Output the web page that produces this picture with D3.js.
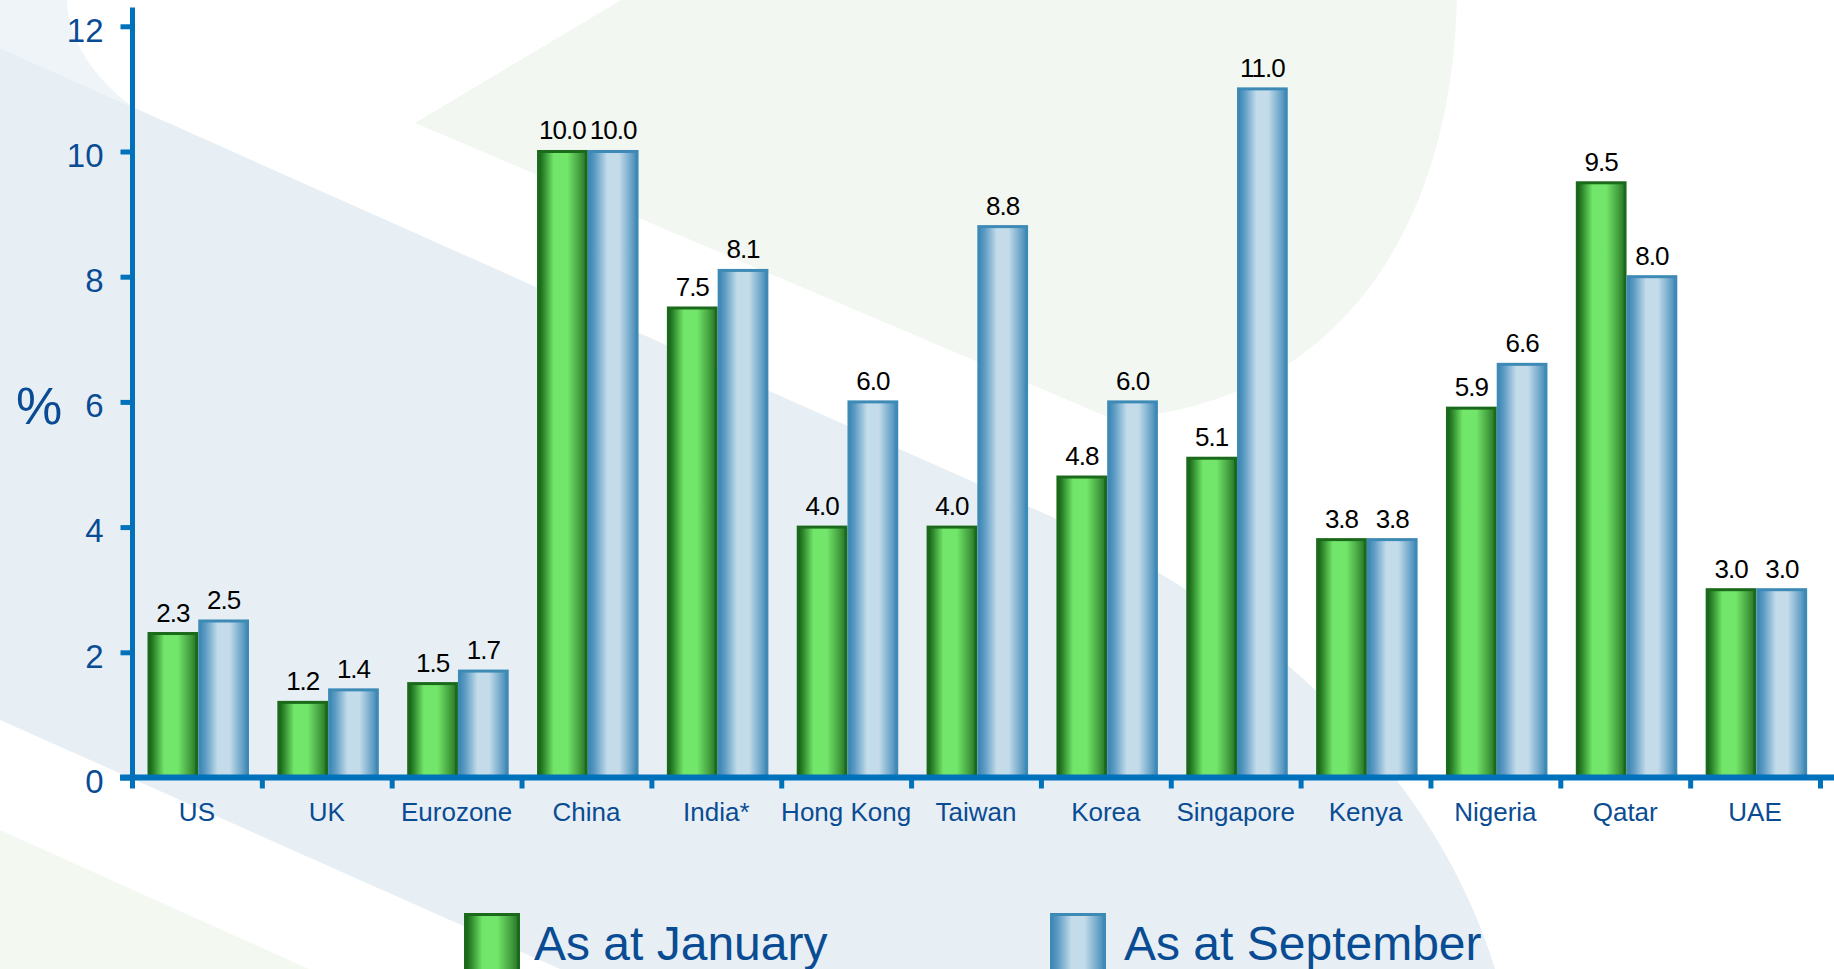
<!DOCTYPE html>
<html>
<head>
<meta charset="utf-8">
<script src="https://cdn.jsdelivr.net/npm/d3@7"></script>
<style>
  body { margin: 0; background: #fff; overflow: hidden; }
  svg { display: block; font-family: Arial, "Liberation Sans", sans-serif; }
</style>
</head>
<body>
<script>
const categories = ["US", "UK", "Eurozone", "China", "India*", "Hong Kong", "Taiwan", "Korea", "Singapore", "Kenya", "Nigeria", "Qatar", "UAE"];
const january = [2.3, 1.2, 1.5, 10.0, 7.5, 4.0, 4.0, 4.8, 5.1, 3.8, 5.9, 9.5, 3.0];
const september = [2.5, 1.4, 1.7, 10.0, 8.1, 6.0, 8.8, 6.0, 11.0, 3.8, 6.6, 8.0, 3.0];
const seriesNames = ["As at January", "As at September"];
const yTicks = [0, 2, 4, 6, 8, 10, 12];

let width = 1834, height = 969;
let axisBlue = "#0071bb";
let textBlue = "#0a4c93";

let svg = d3.select("body").append("svg")
    .attr("width", width)
    .attr("height", height);

// gradients for the cylinder look
let defs = svg.append("defs");
let gradGreen = defs.append("linearGradient").attr("id", "gGreen").attr("x1", 0).attr("x2", 1).attr("y1", 0).attr("y2", 0);
[[0, "#175c16"], [0.1, "#2c862a"], [0.32, "#72e66a"], [0.6, "#72e66a"], [0.85, "#45a240"], [1, "#267426"]]
    .forEach(s => gradGreen.append("stop").attr("offset", s[0]).attr("stop-color", s[1]));
let gradBlue = defs.append("linearGradient").attr("id", "gBlue").attr("x1", 0).attr("x2", 1).attr("y1", 0).attr("y2", 0);
[[0, "#3f86b3"], [0.12, "#5c9bc4"], [0.38, "#c4dcea"], [0.62, "#c4dcea"], [0.88, "#6ba4c8"], [1, "#3f88b5"]]
    .forEach(s => gradBlue.append("stop").attr("offset", s[0]).attr("stop-color", s[1]));

// background swooshes
let bg = svg.append("g");
bg.append("path").attr("fill", "#eef4f8")
    .attr("d", "M0,0 L67,0 C68,40 95,80 133,107 L0,48 Z");
bg.append("path").attr("fill", "#e7eff5")
    .attr("d", "M0,48 L1050,516 C1290,625 1440,790 1495,969 L560,969 L0,720 Z");
bg.append("path").attr("fill", "#f2f7f1")
    .attr("d", "M415,123 L621,0 L1457,0 C1450,250 1320,410 1110,418 Z");
bg.append("path").attr("fill", "#f3f8f1")
    .attr("d", "M0,830 L309,969 L0,969 Z");

let x0 = d3.scaleBand()
    .domain(categories)
    .range([132, 1820])
    .padding(0);

let x1 = d3.scaleBand()
    .domain(seriesNames)
    .range([15.5, 117]);

let y = d3.scaleLinear()
    .domain([0, 12.3])
    .range([777.5, 7.5]);

let rows = categories.map((c, i) => ({
    cat: c,
    vals: [
        { s: seriesNames[0], v: january[i], fill: "url(#gGreen)", stroke: "#1b6a1c" },
        { s: seriesNames[1], v: september[i], fill: "url(#gBlue)", stroke: "#3d8ab7" }
    ]
}));

let groups = svg.selectAll("g.grp")
    .data(rows)
    .enter()
        .append("g")
        .attr("class", "grp")
        .attr("transform", d => `translate(${x0(d.cat)},0)`);

groups.selectAll("rect")
    .data(d => d.vals)
    .enter()
        .append("rect")
        .attr("x", d => x1(d.s) + 1.5)
        .attr("width", x1.bandwidth() - 3)
        .attr("y", d => y(d.v))
        .attr("height", d => y(0) - y(d.v))
        .attr("fill", d => d.fill)
        .attr("stroke", d => d.stroke)
        .attr("stroke-width", 3);

groups.selectAll("text")
    .data(d => d.vals)
    .enter()
        .append("text")
        .attr("x", d => x1(d.s) + x1.bandwidth() / 2)
        .attr("y", d => y(d.v) - 12)
        .attr("text-anchor", "middle")
        .attr("font-size", 26)
        .attr("letter-spacing", -1)
        .attr("fill", "#000")
        .text(d => d.v.toFixed(1));

// y axis
let yAxis = d3.axisLeft(y)
    .tickValues(yTicks)
    .tickSize(12)
    .tickSizeOuter(0)
    .tickPadding(17);

let gy = svg.append("g")
    .attr("transform", "translate(132.5,0)")
    .call(yAxis);
gy.select(".domain").attr("stroke", axisBlue).attr("stroke-width", 5)
    .attr("d", `M0,${y(12.3)}V${y(0) + 3.5}`);
gy.selectAll(".tick line").attr("stroke", axisBlue).attr("stroke-width", 5);
gy.selectAll(".tick text")
    .attr("font-size", 33)
    .attr("font-family", "Arial, 'Liberation Sans', sans-serif")
    .attr("fill", textBlue)
    .attr("dy", "0.45em");

// x axis
let xAxis = d3.axisBottom(x0)
    .tickSize(0)
    .tickPadding(25);

let gx = svg.append("g")
    .attr("transform", `translate(0,${y(0)})`)
    .call(xAxis);
gx.select(".domain").remove();
gx.selectAll(".tick text")
    .attr("font-size", 26)
    .attr("font-family", "Arial, 'Liberation Sans', sans-serif")
    .attr("fill", textBlue);

gx.append("line")
    .attr("x1", 120).attr("x2", width)
    .attr("y1", 0).attr("y2", 0)
    .attr("stroke", axisBlue)
    .attr("stroke-width", 6);

let bounds = categories.map(c => x0(c)).concat([x0.range()[1]]);
gx.selectAll("line.bound")
    .data(bounds)
    .enter()
        .append("line")
        .attr("class", "bound")
        .attr("x1", d => d + 0.5).attr("x2", d => d + 0.5)
        .attr("y1", 0).attr("y2", 11)
        .attr("stroke", axisBlue)
        .attr("stroke-width", 5);

// axis title
svg.append("text")
    .attr("x", 16)
    .attr("y", 424)
    .attr("font-size", 52)
    .attr("fill", textBlue)
    .text("%");

// legend
let legendX = [464, 1050];
let legend = svg.selectAll("g.leg")
    .data(rows[0].vals)
    .enter()
        .append("g")
        .attr("class", "leg")
        .attr("transform", (d, i) => `translate(${legendX[i]},913)`);

legend.append("rect")
    .attr("x", 1.5).attr("y", 1.5)
    .attr("width", 53).attr("height", 80)
    .attr("fill", d => d.fill)
    .attr("stroke", d => d.stroke)
    .attr("stroke-width", 3);

legend.append("text")
    .attr("x", (d, i) => i === 0 ? 70 : 74)
    .attr("y", 47)
    .attr("font-size", 48)
    .attr("fill", textBlue)
    .text(d => d.s);
</script>
</body>
</html>
